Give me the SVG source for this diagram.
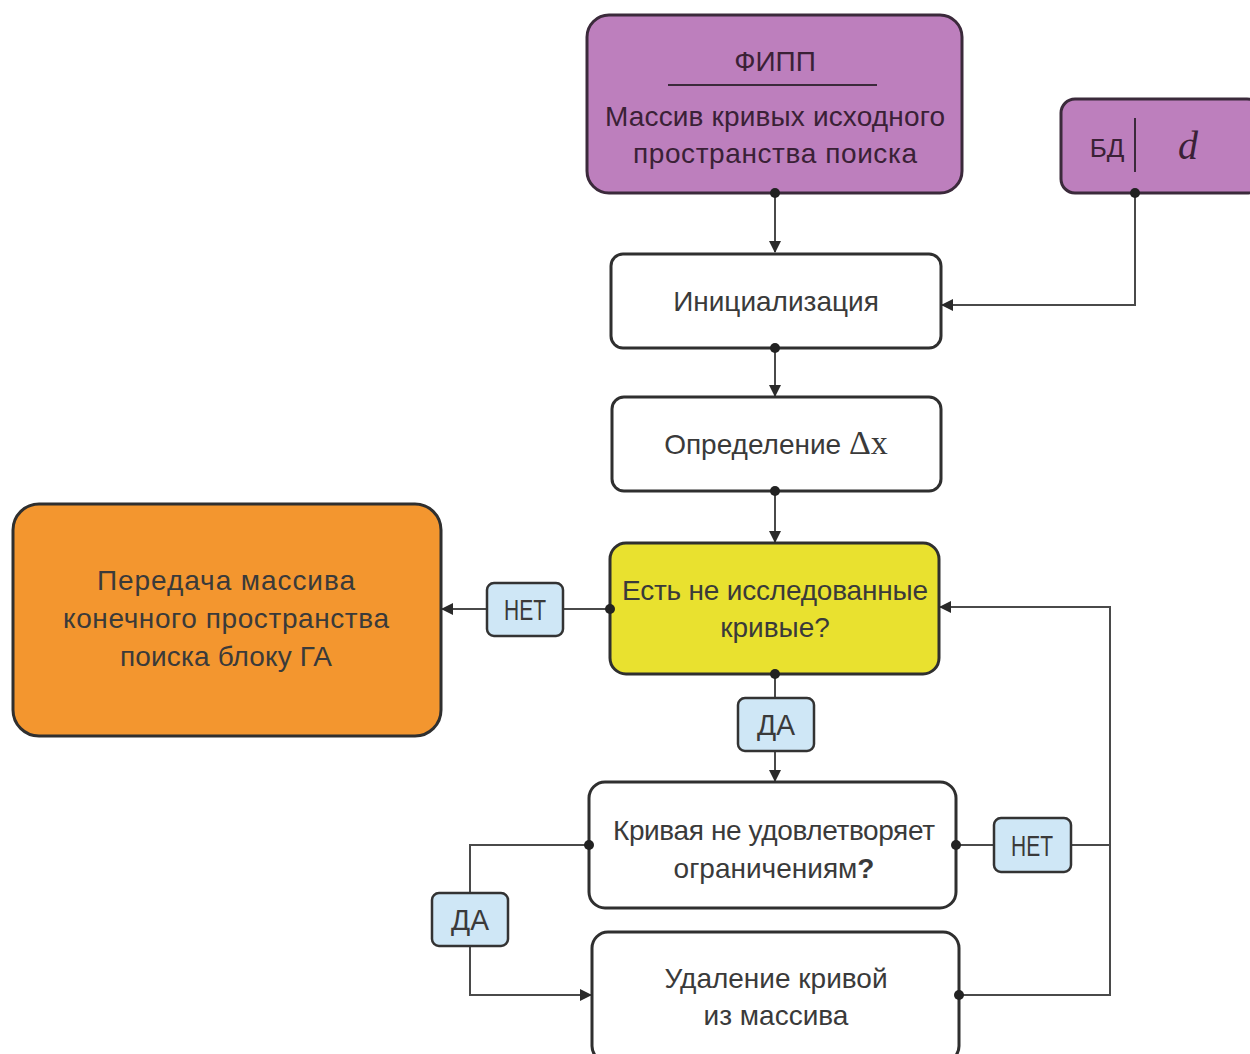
<svg xmlns="http://www.w3.org/2000/svg" width="1250" height="1054" viewBox="0 0 1250 1054">
  <style>
    .node { stroke: #2f2f2f; stroke-width: 3; }
    .plain { fill: #ffffff; }
    .purple { fill: #bd7fbd; stroke: #3b2a3b; }
    .tag { fill: #cfe7f6; stroke: #333333; stroke-width: 2.5; }
    .txt { font-family: "Liberation Sans", "DejaVu Sans", sans-serif; font-size: 28px; fill: #3a3a3a; text-anchor: middle; }
    .lbl { font-size: 29px; }
    .dark { fill: #3a2136; }
    .wire { fill: none; stroke: #4a4a4a; stroke-width: 2; }
    .serif { font-family: "Liberation Serif", serif; }
    .pin { fill: #222222; }
  </style>
  <defs>
    <marker id="arrow" viewBox="0 0 12 12" refX="11" refY="6" markerWidth="12" markerHeight="12" markerUnits="userSpaceOnUse" orient="auto">
      <path d="M0,0 L12,6 L0,12 Z" fill="#2a2a2a"/>
    </marker>
  </defs>

  <!-- source data -->
  <g id="fipp">
    <rect class="node purple" x="587" y="15" width="375" height="178" rx="22"/>
    <text class="txt dark" x="775" y="71">ФИПП</text>
    <line x1="668" y1="85" x2="877" y2="85" stroke="#3b2a3b" stroke-width="2"/>
    <text class="txt dark" x="775" y="126" textLength="340">Массив кривых исходного</text>
    <text class="txt dark" x="775" y="163" textLength="284">пространства поиска</text>
  </g>

  <g id="db">
    <rect class="node purple" x="1061" y="99" width="200" height="94" rx="14"/>
    <text class="txt dark" x="1107" y="157" style="font-size:26px">БД</text>
    <line x1="1135" y1="118" x2="1135" y2="172" stroke="#3b2a3b" stroke-width="2"/>
    <text class="txt dark serif" x="1188" y="159" style="font-size:40px; font-style:italic">d</text>
  </g>

  <g id="init">
    <rect class="node plain" x="611" y="254" width="330" height="94" rx="12"/>
    <text class="txt" x="776" y="311">Инициализация</text>
  </g>

  <g id="delta">
    <rect class="node plain" x="612" y="397" width="329" height="94" rx="12"/>
    <text class="txt" x="776" y="454">Определение <tspan class="serif" style="font-size:34px">Δx</tspan></text>
  </g>

  <g id="check-curves">
    <rect class="node" x="610" y="543" width="329" height="131" rx="16" fill="#e9e12f"/>
    <text class="txt" x="775" y="600" textLength="306">Есть не исследованные</text>
    <text class="txt" x="775" y="637">кривые?</text>
  </g>

  <g id="handoff">
    <rect class="node" x="13" y="504" width="428" height="232" rx="26" fill="#f3962f"/>
    <text class="txt" x="226" y="590" textLength="258">Передача массива</text>
    <text class="txt" x="226" y="628" textLength="326">конечного пространства</text>
    <text class="txt" x="226" y="666" textLength="212">поиска блоку ГА</text>
  </g>

  <g id="check-limits">
    <rect class="node plain" x="589" y="782" width="367" height="126" rx="16"/>
    <text class="txt" x="774" y="840" textLength="322">Кривая не удовлетворяет</text>
    <text class="txt" x="774" y="878">ограничениям<tspan font-weight="bold">?</tspan></text>
  </g>

  <g id="remove">
    <rect class="node plain" x="592" y="932" width="367" height="130" rx="16"/>
    <text class="txt" x="776" y="988">Удаление кривой</text>
    <text class="txt" x="776" y="1025">из массива</text>
  </g>

  <!-- connectors -->
  <g id="connectors">
    <path class="wire" d="M775,193 L775,252" marker-end="url(#arrow)"/>
    <path class="wire" d="M1135,193 L1135,305 L942,305" marker-end="url(#arrow)"/>
    <path class="wire" d="M775,348 L775,396" marker-end="url(#arrow)"/>
    <path class="wire" d="M775,491 L775,542" marker-end="url(#arrow)"/>
    <path class="wire" d="M610,609 L563,609"/>
    <path class="wire" d="M487,609 L442,609" marker-end="url(#arrow)"/>
    <path class="wire" d="M775,674 L775,698"/>
    <path class="wire" d="M775,751 L775,781" marker-end="url(#arrow)"/>
    <path class="wire" d="M589,845 L470,845 L470,893"/>
    <path class="wire" d="M470,946 L470,995 L591,995" marker-end="url(#arrow)"/>
    <path class="wire" d="M956,845 L994,845"/>
    <path class="wire" d="M1071,845 L1110,845"/>
    <path class="wire" d="M959,995 L1110,995 L1110,607 L940,607" marker-end="url(#arrow)"/>
    <circle class="pin" cx="775" cy="193" r="5"/>
    <circle class="pin" cx="1135" cy="193" r="5"/>
    <circle class="pin" cx="775" cy="348" r="5"/>
    <circle class="pin" cx="775" cy="491" r="5"/>
    <circle class="pin" cx="610" cy="609" r="5"/>
    <circle class="pin" cx="775" cy="674" r="5"/>
    <circle class="pin" cx="589" cy="845" r="5"/>
    <circle class="pin" cx="956" cy="845" r="5"/>
    <circle class="pin" cx="959" cy="995" r="5"/>
  </g>

  <!-- branch labels -->
  <g id="no-1">
    <rect class="tag" x="487" y="583" width="76" height="53" rx="7"/>
    <text class="txt lbl" x="525" y="620" textLength="42" lengthAdjust="spacingAndGlyphs">НЕТ</text>
  </g>
  <g id="yes-1">
    <rect class="tag" x="738" y="698" width="76" height="53" rx="7"/>
    <text class="txt lbl" x="776" y="735" textLength="38" lengthAdjust="spacingAndGlyphs">ДА</text>
  </g>
  <g id="no-2">
    <rect class="tag" x="994" y="818" width="77" height="54" rx="7"/>
    <text class="txt lbl" x="1032" y="856" textLength="42" lengthAdjust="spacingAndGlyphs">НЕТ</text>
  </g>
  <g id="yes-2">
    <rect class="tag" x="432" y="893" width="76" height="53" rx="7"/>
    <text class="txt lbl" x="470" y="930" textLength="38" lengthAdjust="spacingAndGlyphs">ДА</text>
  </g>
</svg>
